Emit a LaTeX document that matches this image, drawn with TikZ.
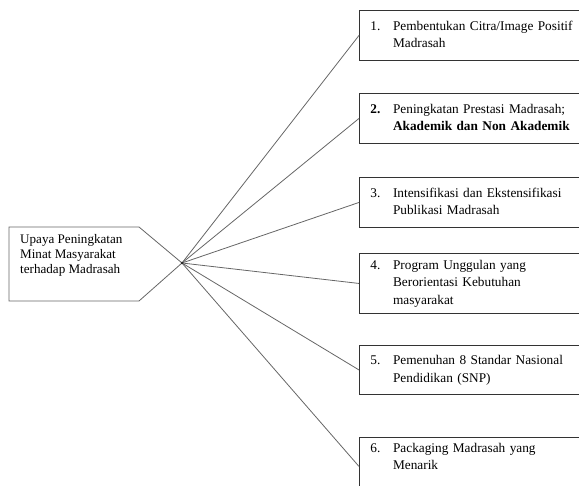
\documentclass[tikz,border=0pt]{standalone}
\usepackage{fontspec}
\setmainfont{Liberation Serif}
\usepackage{tikz}
\usetikzlibrary{calc}
\newcommand{\butir}[2]{\begin{tabular}{@{}p{22.6pt}@{}l@{}}#1 & #2\end{tabular}}
\tikzset{
	kotak/.style={draw=black!80, line width=0.9pt, rectangle, anchor=north west, inner xsep=11pt, inner ysep=3pt, text width=209pt, align=left, font=\fontsize{13.3}{17.3}\selectfont},
	garis/.style={draw=black!60, line width=0.8pt}
}

\begin{document}
\begin{tikzpicture}[x=1pt, y=-1pt]
			%%%%% START %%%%%
			\useasboundingbox (0, 0) rectangle (579, 486);
			
			\coordinate (tip) at (182, 263);
			\draw[garis] (9, 227) -- (139, 227) -- (tip) -- (139, 301) -- (9, 301) -- cycle;
			\node[anchor=north west, inner sep=0pt, align=left, font=\fontsize{13.1}{15}\selectfont] (upaya) at (20, 234) {Upaya Peningkatan\\Minat Masyarakat\\terhadap Madrasah};
			
			\node[kotak, minimum height=50pt] (b1) at (359, 10) {\butir{1.}{Pembentukan Citra/Image Positif\\ & Madrasah}};
			\node[kotak, minimum height=50pt] (b2) at (359, 93) {\butir{\textbf{2.}}{Peningkatan Prestasi Madrasah;\\ & \textbf{Akademik dan Non Akademik}}};
			\node[kotak, minimum height=50pt] (b3) at (359, 177) {\butir{3.}{Intensifikasi dan Ekstensifikasi\\ & Publikasi Madrasah}};
			\node[kotak, minimum height=60pt] (b4) at (359, 253) {\butir{4.}{Program Unggulan yang\\ & Berorientasi Kebutuhan\\ & masyarakat}};
			\node[kotak, minimum height=49pt] (b5) at (359, 345) {\butir{5.}{Pemenuhan 8 Standar Nasional\\ & Pendidikan (SNP)}};
			\node[kotak, minimum height=58pt] (b6) at (359, 437) {\butir{6.}{Packaging Madrasah yang\\ & Menarik\\ & \strut}};
			
			\draw[garis] (tip) -- (b1.west);
			\draw[garis] (tip) -- (b2.west);
			\draw[garis] (tip) -- (b3.west);
			\draw[garis] (tip) -- (b4.west);
			\draw[garis] (tip) -- (b5.west);
			\draw[garis] (tip) -- (b6.west);
			\fill[black!85] (tip) circle (1.3);
			%%%%% END %%%%%
\end{tikzpicture}
\end{document}
